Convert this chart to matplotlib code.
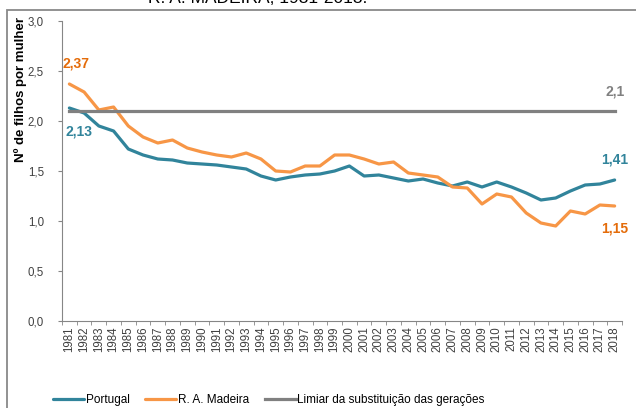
import matplotlib
matplotlib.use("Agg")
import matplotlib.pyplot as plt
from matplotlib.patches import Rectangle
from matplotlib.ticker import FuncFormatter, FixedLocator

plt.rcParams['font.family'] = ['Liberation Sans', 'DejaVu Sans']

# Índice sintético de fecundidade
anos = list(range(1981, 2019))
portugal = [2.13, 2.08, 1.95, 1.90, 1.72, 1.66, 1.62, 1.61, 1.58, 1.57,
            1.56, 1.54, 1.52, 1.45, 1.41, 1.44, 1.46, 1.47, 1.50, 1.55,
            1.45, 1.46, 1.43, 1.40, 1.42, 1.38, 1.35, 1.39, 1.34, 1.39,
            1.34, 1.28, 1.21, 1.23, 1.30, 1.36, 1.37, 1.41]
madeira = [2.37, 2.29, 2.11, 2.14, 1.95, 1.84, 1.78, 1.81, 1.73, 1.69,
           1.66, 1.64, 1.68, 1.62, 1.50, 1.49, 1.55, 1.55, 1.66, 1.66,
           1.62, 1.57, 1.59, 1.48, 1.46, 1.44, 1.34, 1.33, 1.17, 1.27,
           1.24, 1.08, 0.98, 0.95, 1.10, 1.07, 1.16, 1.15]
limiar = [2.1] * len(anos)

c_pt = '#31849B'
c_ma = '#F79646'
c_ma_txt = '#E46C0A'
c_lim = '#808080'

fig = plt.figure(figsize=(6.36, 4.08), dpi=100)
ax = fig.add_axes([62 / 636, 1 - 321 / 408, 560 / 636, 300 / 408])

x = list(range(len(anos)))
ax.plot(x, portugal, color=c_pt, lw=2.3, label='Portugal', solid_capstyle='round')
ax.plot(x, madeira, color=c_ma, lw=2.3, label='R. A. Madeira', solid_capstyle='round')
ax.plot(x, limiar, color=c_lim, lw=2.3, label='Limiar da substituição das gerações')

ax.set_xlim(-0.5, len(anos) - 0.5)
ax.set_ylim(0, 3.0)
ax.set_yticks([0, 0.5, 1.0, 1.5, 2.0, 2.5, 3.0])
ax.yaxis.set_major_formatter(FuncFormatter(lambda v, p: f'{v:.1f}'.replace('.', ',')))
ax.set_xticks(x)
ax.set_xticklabels([str(a) for a in anos], rotation=90, fontsize=8.3)
ax.xaxis.set_minor_locator(FixedLocator([i - 0.5 for i in range(len(anos) + 1)]))
ax.tick_params(axis='x', which='major', length=0, pad=4, colors='#404040')
ax.tick_params(axis='x', which='minor', length=3, color='#868686')
ax.tick_params(axis='y', length=3, color='#868686', labelsize=8.3, labelcolor='#404040', pad=10)

for s in ['top', 'right']:
    ax.spines[s].set_visible(False)
for s in ['left', 'bottom']:
    ax.spines[s].set_color('#868686')
    ax.spines[s].set_linewidth(0.8)

fig.text(21 / 636, 1 - 17 / 408, 'Nº de filhos por mulher', rotation=90, ha='center', va='top',
         fontsize=9.5, fontweight='bold')

# rótulos de valores
ax.annotate('2,37', (0, madeira[0]), xytext=(-5, 10), textcoords='offset points',
            color=c_ma_txt, fontsize=10, fontweight='bold', ha='left', va='bottom')
ax.annotate('2,13', (0, portugal[0]), xytext=(-3, -12), textcoords='offset points',
            color=c_pt, fontsize=10, fontweight='bold', ha='left', va='top')
ax.annotate('2,1', (len(anos) - 1, limiar[-1]), xytext=(0, 9), textcoords='offset points',
            color=c_lim, fontsize=10, fontweight='bold', ha='center', va='bottom')
ax.annotate('1,41', (len(anos) - 1, portugal[-1]), xytext=(0, 10), textcoords='offset points',
            color=c_pt, fontsize=10, fontweight='bold', ha='center', va='bottom')
ax.annotate('1,15', (len(anos) - 1, madeira[-1]), xytext=(0, -11), textcoords='offset points',
            color=c_ma_txt, fontsize=10, fontweight='bold', ha='center', va='top')

fig.legend(loc='center', bbox_to_anchor=(269 / 636, 1 - 400 / 408), ncol=3, frameon=False,
           fontsize=8.5, handlelength=2.6, handletextpad=0.15, columnspacing=1.35)

# moldura e título cortado
fig.patches.append(Rectangle((7 / 636, -0.05), 1.1, 1.05 - 10 / 408, transform=fig.transFigure,
                             fill=False, edgecolor='#898989', lw=1.3))
fig.text(258 / 636, 1 - 3 / 408, 'R. A. MADEIRA, 1981-2018.', ha='center', va='baseline',
         fontsize=12.5, color='#000000')

fig.savefig('out.png', dpi=100)
